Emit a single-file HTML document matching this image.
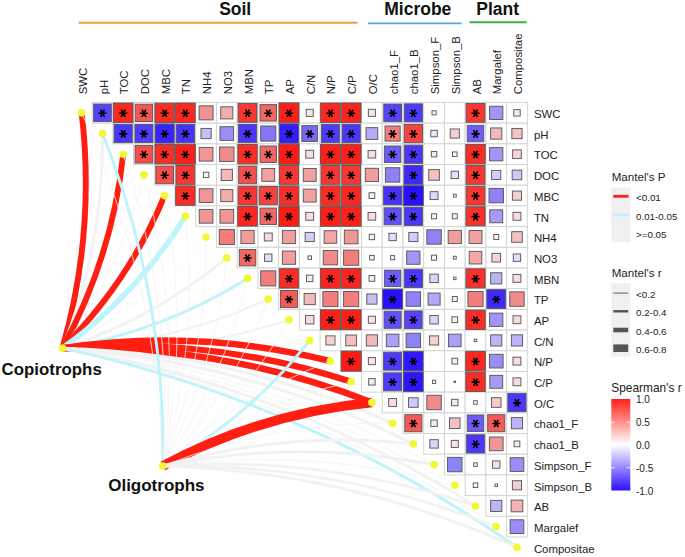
<!DOCTYPE html>
<html><head><meta charset="utf-8"><title>Mantel test correlation heatmap</title>
<style>html,body{margin:0;padding:0;background:#fff}body{width:685px;height:557px;position:relative;overflow:hidden;font-family:"Liberation Sans",sans-serif}</style></head>
<body>
<svg width="685" height="557" viewBox="0 0 685 557" style="position:absolute;left:0;top:0">
<rect width="685" height="557" fill="#fff"/>
<g stroke-linecap="butt">
<path d="M62.4 348.2 Q95.6 232.5 81.7 112.8" stroke="#ff1e12" stroke-width="5.9" fill="none"/>
<path d="M62.4 348.2 Q103.9 244.9 102.5 133.5" stroke="#f2f2f2" stroke-width="2.9" fill="none"/>
<path d="M62.4 348.2 Q112.2 257.3 123.2 154.2" stroke="#ff1e12" stroke-width="5.9" fill="none"/>
<path d="M62.4 348.2 Q120.5 269.7 143.9 174.9" stroke="#f2f2f2" stroke-width="0.8" fill="none"/>
<path d="M62.4 348.2 Q128.8 282.1 164.6 195.6" stroke="#ff1e12" stroke-width="5.9" fill="none"/>
<path d="M62.4 348.2 Q137.1 294.5 185.4 216.3" stroke="#bdf3fa" stroke-width="5.4" fill="none"/>
<path d="M62.4 348.2 Q145.4 307.0 206.1 237.0" stroke="#f2f2f2" stroke-width="0.8" fill="none"/>
<path d="M62.4 348.2 Q153.7 319.4 226.8 257.7" stroke="#f2f2f2" stroke-width="2.9" fill="none"/>
<path d="M62.4 348.2 Q162.0 331.8 247.5 278.4" stroke="#bdf3fa" stroke-width="2.9" fill="none"/>
<path d="M62.4 348.2 Q170.2 344.2 268.3 299.1" stroke="#f2f2f2" stroke-width="2.2" fill="none"/>
<path d="M62.4 348.2 Q178.5 356.6 289.0 319.7" stroke="#f2f2f2" stroke-width="2.2" fill="none"/>
<path d="M62.4 348.2 Q186.8 369.0 309.7 340.4" stroke="#f2f2f2" stroke-width="0.8" fill="none"/>
<path d="M62.4 348.2 Q197.7 327.9 330.4 361.1" stroke="#ff1e12" stroke-width="6.4" fill="none"/>
<path d="M62.4 348.2 Q210.1 336.1 351.2 381.8" stroke="#ff1e12" stroke-width="6.4" fill="none"/>
<path d="M62.4 348.2 Q222.6 344.4 371.9 402.5" stroke="#ff1e12" stroke-width="6.4" fill="none"/>
<path d="M62.4 348.2 Q235.0 352.7 392.6 423.2" stroke="#f2f2f2" stroke-width="2.9" fill="none"/>
<path d="M62.4 348.2 Q247.4 360.9 413.3 443.9" stroke="#f2f2f2" stroke-width="2.9" fill="none"/>
<path d="M62.4 348.2 Q259.9 369.2 434.1 464.6" stroke="#f2f2f2" stroke-width="0.8" fill="none"/>
<path d="M62.4 348.2 Q272.3 377.5 454.8 485.3" stroke="#f2f2f2" stroke-width="0.8" fill="none"/>
<path d="M62.4 348.2 Q284.7 385.8 475.5 506.0" stroke="#f2f2f2" stroke-width="2.9" fill="none"/>
<path d="M62.4 348.2 Q297.2 394.0 496.2 526.6" stroke="#f2f2f2" stroke-width="0.8" fill="none"/>
<path d="M62.4 348.2 Q309.6 402.3 517.0 547.3" stroke="#bdf3fa" stroke-width="2.9" fill="none"/>
<path d="M162.8 466.0 Q157.6 281.3 81.7 112.8" stroke="#f2f2f2" stroke-width="0.8" fill="none"/>
<path d="M162.8 466.0 Q165.9 293.7 102.5 133.5" stroke="#bdf3fa" stroke-width="2.9" fill="none"/>
<path d="M162.8 466.0 Q174.2 306.2 123.2 154.2" stroke="#f2f2f2" stroke-width="0.8" fill="none"/>
<path d="M162.8 466.0 Q182.5 318.6 143.9 174.9" stroke="#f2f2f2" stroke-width="0.8" fill="none"/>
<path d="M162.8 466.0 Q190.8 331.0 164.6 195.6" stroke="#f2f2f2" stroke-width="0.8" fill="none"/>
<path d="M162.8 466.0 Q199.1 343.4 185.4 216.3" stroke="#f2f2f2" stroke-width="0.8" fill="none"/>
<path d="M162.8 466.0 Q207.3 355.8 206.1 237.0" stroke="#f2f2f2" stroke-width="0.8" fill="none"/>
<path d="M162.8 466.0 Q215.6 368.2 226.8 257.7" stroke="#f2f2f2" stroke-width="0.8" fill="none"/>
<path d="M162.8 466.0 Q223.9 380.7 247.5 278.4" stroke="#f2f2f2" stroke-width="0.8" fill="none"/>
<path d="M162.8 466.0 Q232.2 393.1 268.3 299.1" stroke="#f2f2f2" stroke-width="0.8" fill="none"/>
<path d="M162.8 466.0 Q240.5 405.5 289.0 319.7" stroke="#f2f2f2" stroke-width="0.8" fill="none"/>
<path d="M162.8 466.0 Q248.8 417.9 309.7 340.4" stroke="#bdf3fa" stroke-width="2.9" fill="none"/>
<path d="M162.8 466.0 Q236.1 396.8 330.4 361.1" stroke="#f2f2f2" stroke-width="0.8" fill="none"/>
<path d="M162.8 466.0 Q248.6 405.1 351.2 381.8" stroke="#f2f2f2" stroke-width="0.8" fill="none"/>
<path d="M162.8 466.0 Q261.0 413.3 371.9 402.5" stroke="#ff1e12" stroke-width="9.6" fill="none"/>
<path d="M162.8 466.0 Q273.4 421.6 392.6 423.2" stroke="#f2f2f2" stroke-width="0.8" fill="none"/>
<path d="M162.8 466.0 Q285.9 429.9 413.3 443.9" stroke="#f2f2f2" stroke-width="2.9" fill="none"/>
<path d="M162.8 466.0 Q298.3 438.2 434.1 464.6" stroke="#f2f2f2" stroke-width="2.9" fill="none"/>
<path d="M162.8 466.0 Q310.7 446.4 454.8 485.3" stroke="#f2f2f2" stroke-width="0.8" fill="none"/>
<path d="M162.8 466.0 Q323.2 454.7 475.5 506.0" stroke="#f2f2f2" stroke-width="2.9" fill="none"/>
<path d="M162.8 466.0 Q335.6 463.0 496.2 526.6" stroke="#f2f2f2" stroke-width="2.9" fill="none"/>
<path d="M162.8 466.0 Q348.0 471.3 517.0 547.3" stroke="#f2f2f2" stroke-width="2.9" fill="none"/>
</g>
<g>
<rect x="92.10" y="102.50" width="20.725" height="20.69" fill="#fff" stroke="#d4d4d4" stroke-width="1"/>
<rect x="112.82" y="102.50" width="20.725" height="20.69" fill="#fff" stroke="#d4d4d4" stroke-width="1"/>
<rect x="133.55" y="102.50" width="20.725" height="20.69" fill="#fff" stroke="#d4d4d4" stroke-width="1"/>
<rect x="154.28" y="102.50" width="20.725" height="20.69" fill="#fff" stroke="#d4d4d4" stroke-width="1"/>
<rect x="175.00" y="102.50" width="20.725" height="20.69" fill="#fff" stroke="#d4d4d4" stroke-width="1"/>
<rect x="195.72" y="102.50" width="20.725" height="20.69" fill="#fff" stroke="#d4d4d4" stroke-width="1"/>
<rect x="216.45" y="102.50" width="20.725" height="20.69" fill="#fff" stroke="#d4d4d4" stroke-width="1"/>
<rect x="237.18" y="102.50" width="20.725" height="20.69" fill="#fff" stroke="#d4d4d4" stroke-width="1"/>
<rect x="257.90" y="102.50" width="20.725" height="20.69" fill="#fff" stroke="#d4d4d4" stroke-width="1"/>
<rect x="278.62" y="102.50" width="20.725" height="20.69" fill="#fff" stroke="#d4d4d4" stroke-width="1"/>
<rect x="299.35" y="102.50" width="20.725" height="20.69" fill="#fff" stroke="#d4d4d4" stroke-width="1"/>
<rect x="320.08" y="102.50" width="20.725" height="20.69" fill="#fff" stroke="#d4d4d4" stroke-width="1"/>
<rect x="340.80" y="102.50" width="20.725" height="20.69" fill="#fff" stroke="#d4d4d4" stroke-width="1"/>
<rect x="361.52" y="102.50" width="20.725" height="20.69" fill="#fff" stroke="#d4d4d4" stroke-width="1"/>
<rect x="382.25" y="102.50" width="20.725" height="20.69" fill="#fff" stroke="#d4d4d4" stroke-width="1"/>
<rect x="402.98" y="102.50" width="20.725" height="20.69" fill="#fff" stroke="#d4d4d4" stroke-width="1"/>
<rect x="423.70" y="102.50" width="20.725" height="20.69" fill="#fff" stroke="#d4d4d4" stroke-width="1"/>
<rect x="444.43" y="102.50" width="20.725" height="20.69" fill="#fff" stroke="#d4d4d4" stroke-width="1"/>
<rect x="465.15" y="102.50" width="20.725" height="20.69" fill="#fff" stroke="#d4d4d4" stroke-width="1"/>
<rect x="485.88" y="102.50" width="20.725" height="20.69" fill="#fff" stroke="#d4d4d4" stroke-width="1"/>
<rect x="506.60" y="102.50" width="20.725" height="20.69" fill="#fff" stroke="#d4d4d4" stroke-width="1"/>
<rect x="112.82" y="123.19" width="20.725" height="20.69" fill="#fff" stroke="#d4d4d4" stroke-width="1"/>
<rect x="133.55" y="123.19" width="20.725" height="20.69" fill="#fff" stroke="#d4d4d4" stroke-width="1"/>
<rect x="154.28" y="123.19" width="20.725" height="20.69" fill="#fff" stroke="#d4d4d4" stroke-width="1"/>
<rect x="175.00" y="123.19" width="20.725" height="20.69" fill="#fff" stroke="#d4d4d4" stroke-width="1"/>
<rect x="195.72" y="123.19" width="20.725" height="20.69" fill="#fff" stroke="#d4d4d4" stroke-width="1"/>
<rect x="216.45" y="123.19" width="20.725" height="20.69" fill="#fff" stroke="#d4d4d4" stroke-width="1"/>
<rect x="237.18" y="123.19" width="20.725" height="20.69" fill="#fff" stroke="#d4d4d4" stroke-width="1"/>
<rect x="257.90" y="123.19" width="20.725" height="20.69" fill="#fff" stroke="#d4d4d4" stroke-width="1"/>
<rect x="278.62" y="123.19" width="20.725" height="20.69" fill="#fff" stroke="#d4d4d4" stroke-width="1"/>
<rect x="299.35" y="123.19" width="20.725" height="20.69" fill="#fff" stroke="#d4d4d4" stroke-width="1"/>
<rect x="320.08" y="123.19" width="20.725" height="20.69" fill="#fff" stroke="#d4d4d4" stroke-width="1"/>
<rect x="340.80" y="123.19" width="20.725" height="20.69" fill="#fff" stroke="#d4d4d4" stroke-width="1"/>
<rect x="361.52" y="123.19" width="20.725" height="20.69" fill="#fff" stroke="#d4d4d4" stroke-width="1"/>
<rect x="382.25" y="123.19" width="20.725" height="20.69" fill="#fff" stroke="#d4d4d4" stroke-width="1"/>
<rect x="402.98" y="123.19" width="20.725" height="20.69" fill="#fff" stroke="#d4d4d4" stroke-width="1"/>
<rect x="423.70" y="123.19" width="20.725" height="20.69" fill="#fff" stroke="#d4d4d4" stroke-width="1"/>
<rect x="444.43" y="123.19" width="20.725" height="20.69" fill="#fff" stroke="#d4d4d4" stroke-width="1"/>
<rect x="465.15" y="123.19" width="20.725" height="20.69" fill="#fff" stroke="#d4d4d4" stroke-width="1"/>
<rect x="485.88" y="123.19" width="20.725" height="20.69" fill="#fff" stroke="#d4d4d4" stroke-width="1"/>
<rect x="506.60" y="123.19" width="20.725" height="20.69" fill="#fff" stroke="#d4d4d4" stroke-width="1"/>
<rect x="133.55" y="143.88" width="20.725" height="20.69" fill="#fff" stroke="#d4d4d4" stroke-width="1"/>
<rect x="154.28" y="143.88" width="20.725" height="20.69" fill="#fff" stroke="#d4d4d4" stroke-width="1"/>
<rect x="175.00" y="143.88" width="20.725" height="20.69" fill="#fff" stroke="#d4d4d4" stroke-width="1"/>
<rect x="195.72" y="143.88" width="20.725" height="20.69" fill="#fff" stroke="#d4d4d4" stroke-width="1"/>
<rect x="216.45" y="143.88" width="20.725" height="20.69" fill="#fff" stroke="#d4d4d4" stroke-width="1"/>
<rect x="237.18" y="143.88" width="20.725" height="20.69" fill="#fff" stroke="#d4d4d4" stroke-width="1"/>
<rect x="257.90" y="143.88" width="20.725" height="20.69" fill="#fff" stroke="#d4d4d4" stroke-width="1"/>
<rect x="278.62" y="143.88" width="20.725" height="20.69" fill="#fff" stroke="#d4d4d4" stroke-width="1"/>
<rect x="299.35" y="143.88" width="20.725" height="20.69" fill="#fff" stroke="#d4d4d4" stroke-width="1"/>
<rect x="320.08" y="143.88" width="20.725" height="20.69" fill="#fff" stroke="#d4d4d4" stroke-width="1"/>
<rect x="340.80" y="143.88" width="20.725" height="20.69" fill="#fff" stroke="#d4d4d4" stroke-width="1"/>
<rect x="361.52" y="143.88" width="20.725" height="20.69" fill="#fff" stroke="#d4d4d4" stroke-width="1"/>
<rect x="382.25" y="143.88" width="20.725" height="20.69" fill="#fff" stroke="#d4d4d4" stroke-width="1"/>
<rect x="402.98" y="143.88" width="20.725" height="20.69" fill="#fff" stroke="#d4d4d4" stroke-width="1"/>
<rect x="423.70" y="143.88" width="20.725" height="20.69" fill="#fff" stroke="#d4d4d4" stroke-width="1"/>
<rect x="444.43" y="143.88" width="20.725" height="20.69" fill="#fff" stroke="#d4d4d4" stroke-width="1"/>
<rect x="465.15" y="143.88" width="20.725" height="20.69" fill="#fff" stroke="#d4d4d4" stroke-width="1"/>
<rect x="485.88" y="143.88" width="20.725" height="20.69" fill="#fff" stroke="#d4d4d4" stroke-width="1"/>
<rect x="506.60" y="143.88" width="20.725" height="20.69" fill="#fff" stroke="#d4d4d4" stroke-width="1"/>
<rect x="154.28" y="164.57" width="20.725" height="20.69" fill="#fff" stroke="#d4d4d4" stroke-width="1"/>
<rect x="175.00" y="164.57" width="20.725" height="20.69" fill="#fff" stroke="#d4d4d4" stroke-width="1"/>
<rect x="195.72" y="164.57" width="20.725" height="20.69" fill="#fff" stroke="#d4d4d4" stroke-width="1"/>
<rect x="216.45" y="164.57" width="20.725" height="20.69" fill="#fff" stroke="#d4d4d4" stroke-width="1"/>
<rect x="237.18" y="164.57" width="20.725" height="20.69" fill="#fff" stroke="#d4d4d4" stroke-width="1"/>
<rect x="257.90" y="164.57" width="20.725" height="20.69" fill="#fff" stroke="#d4d4d4" stroke-width="1"/>
<rect x="278.62" y="164.57" width="20.725" height="20.69" fill="#fff" stroke="#d4d4d4" stroke-width="1"/>
<rect x="299.35" y="164.57" width="20.725" height="20.69" fill="#fff" stroke="#d4d4d4" stroke-width="1"/>
<rect x="320.08" y="164.57" width="20.725" height="20.69" fill="#fff" stroke="#d4d4d4" stroke-width="1"/>
<rect x="340.80" y="164.57" width="20.725" height="20.69" fill="#fff" stroke="#d4d4d4" stroke-width="1"/>
<rect x="361.52" y="164.57" width="20.725" height="20.69" fill="#fff" stroke="#d4d4d4" stroke-width="1"/>
<rect x="382.25" y="164.57" width="20.725" height="20.69" fill="#fff" stroke="#d4d4d4" stroke-width="1"/>
<rect x="402.98" y="164.57" width="20.725" height="20.69" fill="#fff" stroke="#d4d4d4" stroke-width="1"/>
<rect x="423.70" y="164.57" width="20.725" height="20.69" fill="#fff" stroke="#d4d4d4" stroke-width="1"/>
<rect x="444.43" y="164.57" width="20.725" height="20.69" fill="#fff" stroke="#d4d4d4" stroke-width="1"/>
<rect x="465.15" y="164.57" width="20.725" height="20.69" fill="#fff" stroke="#d4d4d4" stroke-width="1"/>
<rect x="485.88" y="164.57" width="20.725" height="20.69" fill="#fff" stroke="#d4d4d4" stroke-width="1"/>
<rect x="506.60" y="164.57" width="20.725" height="20.69" fill="#fff" stroke="#d4d4d4" stroke-width="1"/>
<rect x="175.00" y="185.26" width="20.725" height="20.69" fill="#fff" stroke="#d4d4d4" stroke-width="1"/>
<rect x="195.72" y="185.26" width="20.725" height="20.69" fill="#fff" stroke="#d4d4d4" stroke-width="1"/>
<rect x="216.45" y="185.26" width="20.725" height="20.69" fill="#fff" stroke="#d4d4d4" stroke-width="1"/>
<rect x="237.18" y="185.26" width="20.725" height="20.69" fill="#fff" stroke="#d4d4d4" stroke-width="1"/>
<rect x="257.90" y="185.26" width="20.725" height="20.69" fill="#fff" stroke="#d4d4d4" stroke-width="1"/>
<rect x="278.62" y="185.26" width="20.725" height="20.69" fill="#fff" stroke="#d4d4d4" stroke-width="1"/>
<rect x="299.35" y="185.26" width="20.725" height="20.69" fill="#fff" stroke="#d4d4d4" stroke-width="1"/>
<rect x="320.08" y="185.26" width="20.725" height="20.69" fill="#fff" stroke="#d4d4d4" stroke-width="1"/>
<rect x="340.80" y="185.26" width="20.725" height="20.69" fill="#fff" stroke="#d4d4d4" stroke-width="1"/>
<rect x="361.52" y="185.26" width="20.725" height="20.69" fill="#fff" stroke="#d4d4d4" stroke-width="1"/>
<rect x="382.25" y="185.26" width="20.725" height="20.69" fill="#fff" stroke="#d4d4d4" stroke-width="1"/>
<rect x="402.98" y="185.26" width="20.725" height="20.69" fill="#fff" stroke="#d4d4d4" stroke-width="1"/>
<rect x="423.70" y="185.26" width="20.725" height="20.69" fill="#fff" stroke="#d4d4d4" stroke-width="1"/>
<rect x="444.43" y="185.26" width="20.725" height="20.69" fill="#fff" stroke="#d4d4d4" stroke-width="1"/>
<rect x="465.15" y="185.26" width="20.725" height="20.69" fill="#fff" stroke="#d4d4d4" stroke-width="1"/>
<rect x="485.88" y="185.26" width="20.725" height="20.69" fill="#fff" stroke="#d4d4d4" stroke-width="1"/>
<rect x="506.60" y="185.26" width="20.725" height="20.69" fill="#fff" stroke="#d4d4d4" stroke-width="1"/>
<rect x="195.72" y="205.95" width="20.725" height="20.69" fill="#fff" stroke="#d4d4d4" stroke-width="1"/>
<rect x="216.45" y="205.95" width="20.725" height="20.69" fill="#fff" stroke="#d4d4d4" stroke-width="1"/>
<rect x="237.18" y="205.95" width="20.725" height="20.69" fill="#fff" stroke="#d4d4d4" stroke-width="1"/>
<rect x="257.90" y="205.95" width="20.725" height="20.69" fill="#fff" stroke="#d4d4d4" stroke-width="1"/>
<rect x="278.62" y="205.95" width="20.725" height="20.69" fill="#fff" stroke="#d4d4d4" stroke-width="1"/>
<rect x="299.35" y="205.95" width="20.725" height="20.69" fill="#fff" stroke="#d4d4d4" stroke-width="1"/>
<rect x="320.08" y="205.95" width="20.725" height="20.69" fill="#fff" stroke="#d4d4d4" stroke-width="1"/>
<rect x="340.80" y="205.95" width="20.725" height="20.69" fill="#fff" stroke="#d4d4d4" stroke-width="1"/>
<rect x="361.52" y="205.95" width="20.725" height="20.69" fill="#fff" stroke="#d4d4d4" stroke-width="1"/>
<rect x="382.25" y="205.95" width="20.725" height="20.69" fill="#fff" stroke="#d4d4d4" stroke-width="1"/>
<rect x="402.98" y="205.95" width="20.725" height="20.69" fill="#fff" stroke="#d4d4d4" stroke-width="1"/>
<rect x="423.70" y="205.95" width="20.725" height="20.69" fill="#fff" stroke="#d4d4d4" stroke-width="1"/>
<rect x="444.43" y="205.95" width="20.725" height="20.69" fill="#fff" stroke="#d4d4d4" stroke-width="1"/>
<rect x="465.15" y="205.95" width="20.725" height="20.69" fill="#fff" stroke="#d4d4d4" stroke-width="1"/>
<rect x="485.88" y="205.95" width="20.725" height="20.69" fill="#fff" stroke="#d4d4d4" stroke-width="1"/>
<rect x="506.60" y="205.95" width="20.725" height="20.69" fill="#fff" stroke="#d4d4d4" stroke-width="1"/>
<rect x="216.45" y="226.64" width="20.725" height="20.69" fill="#fff" stroke="#d4d4d4" stroke-width="1"/>
<rect x="237.18" y="226.64" width="20.725" height="20.69" fill="#fff" stroke="#d4d4d4" stroke-width="1"/>
<rect x="257.90" y="226.64" width="20.725" height="20.69" fill="#fff" stroke="#d4d4d4" stroke-width="1"/>
<rect x="278.62" y="226.64" width="20.725" height="20.69" fill="#fff" stroke="#d4d4d4" stroke-width="1"/>
<rect x="299.35" y="226.64" width="20.725" height="20.69" fill="#fff" stroke="#d4d4d4" stroke-width="1"/>
<rect x="320.08" y="226.64" width="20.725" height="20.69" fill="#fff" stroke="#d4d4d4" stroke-width="1"/>
<rect x="340.80" y="226.64" width="20.725" height="20.69" fill="#fff" stroke="#d4d4d4" stroke-width="1"/>
<rect x="361.52" y="226.64" width="20.725" height="20.69" fill="#fff" stroke="#d4d4d4" stroke-width="1"/>
<rect x="382.25" y="226.64" width="20.725" height="20.69" fill="#fff" stroke="#d4d4d4" stroke-width="1"/>
<rect x="402.98" y="226.64" width="20.725" height="20.69" fill="#fff" stroke="#d4d4d4" stroke-width="1"/>
<rect x="423.70" y="226.64" width="20.725" height="20.69" fill="#fff" stroke="#d4d4d4" stroke-width="1"/>
<rect x="444.43" y="226.64" width="20.725" height="20.69" fill="#fff" stroke="#d4d4d4" stroke-width="1"/>
<rect x="465.15" y="226.64" width="20.725" height="20.69" fill="#fff" stroke="#d4d4d4" stroke-width="1"/>
<rect x="485.88" y="226.64" width="20.725" height="20.69" fill="#fff" stroke="#d4d4d4" stroke-width="1"/>
<rect x="506.60" y="226.64" width="20.725" height="20.69" fill="#fff" stroke="#d4d4d4" stroke-width="1"/>
<rect x="237.18" y="247.33" width="20.725" height="20.69" fill="#fff" stroke="#d4d4d4" stroke-width="1"/>
<rect x="257.90" y="247.33" width="20.725" height="20.69" fill="#fff" stroke="#d4d4d4" stroke-width="1"/>
<rect x="278.62" y="247.33" width="20.725" height="20.69" fill="#fff" stroke="#d4d4d4" stroke-width="1"/>
<rect x="299.35" y="247.33" width="20.725" height="20.69" fill="#fff" stroke="#d4d4d4" stroke-width="1"/>
<rect x="320.08" y="247.33" width="20.725" height="20.69" fill="#fff" stroke="#d4d4d4" stroke-width="1"/>
<rect x="340.80" y="247.33" width="20.725" height="20.69" fill="#fff" stroke="#d4d4d4" stroke-width="1"/>
<rect x="361.52" y="247.33" width="20.725" height="20.69" fill="#fff" stroke="#d4d4d4" stroke-width="1"/>
<rect x="382.25" y="247.33" width="20.725" height="20.69" fill="#fff" stroke="#d4d4d4" stroke-width="1"/>
<rect x="402.98" y="247.33" width="20.725" height="20.69" fill="#fff" stroke="#d4d4d4" stroke-width="1"/>
<rect x="423.70" y="247.33" width="20.725" height="20.69" fill="#fff" stroke="#d4d4d4" stroke-width="1"/>
<rect x="444.43" y="247.33" width="20.725" height="20.69" fill="#fff" stroke="#d4d4d4" stroke-width="1"/>
<rect x="465.15" y="247.33" width="20.725" height="20.69" fill="#fff" stroke="#d4d4d4" stroke-width="1"/>
<rect x="485.88" y="247.33" width="20.725" height="20.69" fill="#fff" stroke="#d4d4d4" stroke-width="1"/>
<rect x="506.60" y="247.33" width="20.725" height="20.69" fill="#fff" stroke="#d4d4d4" stroke-width="1"/>
<rect x="257.90" y="268.02" width="20.725" height="20.69" fill="#fff" stroke="#d4d4d4" stroke-width="1"/>
<rect x="278.62" y="268.02" width="20.725" height="20.69" fill="#fff" stroke="#d4d4d4" stroke-width="1"/>
<rect x="299.35" y="268.02" width="20.725" height="20.69" fill="#fff" stroke="#d4d4d4" stroke-width="1"/>
<rect x="320.08" y="268.02" width="20.725" height="20.69" fill="#fff" stroke="#d4d4d4" stroke-width="1"/>
<rect x="340.80" y="268.02" width="20.725" height="20.69" fill="#fff" stroke="#d4d4d4" stroke-width="1"/>
<rect x="361.52" y="268.02" width="20.725" height="20.69" fill="#fff" stroke="#d4d4d4" stroke-width="1"/>
<rect x="382.25" y="268.02" width="20.725" height="20.69" fill="#fff" stroke="#d4d4d4" stroke-width="1"/>
<rect x="402.98" y="268.02" width="20.725" height="20.69" fill="#fff" stroke="#d4d4d4" stroke-width="1"/>
<rect x="423.70" y="268.02" width="20.725" height="20.69" fill="#fff" stroke="#d4d4d4" stroke-width="1"/>
<rect x="444.43" y="268.02" width="20.725" height="20.69" fill="#fff" stroke="#d4d4d4" stroke-width="1"/>
<rect x="465.15" y="268.02" width="20.725" height="20.69" fill="#fff" stroke="#d4d4d4" stroke-width="1"/>
<rect x="485.88" y="268.02" width="20.725" height="20.69" fill="#fff" stroke="#d4d4d4" stroke-width="1"/>
<rect x="506.60" y="268.02" width="20.725" height="20.69" fill="#fff" stroke="#d4d4d4" stroke-width="1"/>
<rect x="278.62" y="288.71" width="20.725" height="20.69" fill="#fff" stroke="#d4d4d4" stroke-width="1"/>
<rect x="299.35" y="288.71" width="20.725" height="20.69" fill="#fff" stroke="#d4d4d4" stroke-width="1"/>
<rect x="320.08" y="288.71" width="20.725" height="20.69" fill="#fff" stroke="#d4d4d4" stroke-width="1"/>
<rect x="340.80" y="288.71" width="20.725" height="20.69" fill="#fff" stroke="#d4d4d4" stroke-width="1"/>
<rect x="361.52" y="288.71" width="20.725" height="20.69" fill="#fff" stroke="#d4d4d4" stroke-width="1"/>
<rect x="382.25" y="288.71" width="20.725" height="20.69" fill="#fff" stroke="#d4d4d4" stroke-width="1"/>
<rect x="402.98" y="288.71" width="20.725" height="20.69" fill="#fff" stroke="#d4d4d4" stroke-width="1"/>
<rect x="423.70" y="288.71" width="20.725" height="20.69" fill="#fff" stroke="#d4d4d4" stroke-width="1"/>
<rect x="444.43" y="288.71" width="20.725" height="20.69" fill="#fff" stroke="#d4d4d4" stroke-width="1"/>
<rect x="465.15" y="288.71" width="20.725" height="20.69" fill="#fff" stroke="#d4d4d4" stroke-width="1"/>
<rect x="485.88" y="288.71" width="20.725" height="20.69" fill="#fff" stroke="#d4d4d4" stroke-width="1"/>
<rect x="506.60" y="288.71" width="20.725" height="20.69" fill="#fff" stroke="#d4d4d4" stroke-width="1"/>
<rect x="299.35" y="309.40" width="20.725" height="20.69" fill="#fff" stroke="#d4d4d4" stroke-width="1"/>
<rect x="320.08" y="309.40" width="20.725" height="20.69" fill="#fff" stroke="#d4d4d4" stroke-width="1"/>
<rect x="340.80" y="309.40" width="20.725" height="20.69" fill="#fff" stroke="#d4d4d4" stroke-width="1"/>
<rect x="361.52" y="309.40" width="20.725" height="20.69" fill="#fff" stroke="#d4d4d4" stroke-width="1"/>
<rect x="382.25" y="309.40" width="20.725" height="20.69" fill="#fff" stroke="#d4d4d4" stroke-width="1"/>
<rect x="402.98" y="309.40" width="20.725" height="20.69" fill="#fff" stroke="#d4d4d4" stroke-width="1"/>
<rect x="423.70" y="309.40" width="20.725" height="20.69" fill="#fff" stroke="#d4d4d4" stroke-width="1"/>
<rect x="444.43" y="309.40" width="20.725" height="20.69" fill="#fff" stroke="#d4d4d4" stroke-width="1"/>
<rect x="465.15" y="309.40" width="20.725" height="20.69" fill="#fff" stroke="#d4d4d4" stroke-width="1"/>
<rect x="485.88" y="309.40" width="20.725" height="20.69" fill="#fff" stroke="#d4d4d4" stroke-width="1"/>
<rect x="506.60" y="309.40" width="20.725" height="20.69" fill="#fff" stroke="#d4d4d4" stroke-width="1"/>
<rect x="320.08" y="330.09" width="20.725" height="20.69" fill="#fff" stroke="#d4d4d4" stroke-width="1"/>
<rect x="340.80" y="330.09" width="20.725" height="20.69" fill="#fff" stroke="#d4d4d4" stroke-width="1"/>
<rect x="361.52" y="330.09" width="20.725" height="20.69" fill="#fff" stroke="#d4d4d4" stroke-width="1"/>
<rect x="382.25" y="330.09" width="20.725" height="20.69" fill="#fff" stroke="#d4d4d4" stroke-width="1"/>
<rect x="402.98" y="330.09" width="20.725" height="20.69" fill="#fff" stroke="#d4d4d4" stroke-width="1"/>
<rect x="423.70" y="330.09" width="20.725" height="20.69" fill="#fff" stroke="#d4d4d4" stroke-width="1"/>
<rect x="444.43" y="330.09" width="20.725" height="20.69" fill="#fff" stroke="#d4d4d4" stroke-width="1"/>
<rect x="465.15" y="330.09" width="20.725" height="20.69" fill="#fff" stroke="#d4d4d4" stroke-width="1"/>
<rect x="485.88" y="330.09" width="20.725" height="20.69" fill="#fff" stroke="#d4d4d4" stroke-width="1"/>
<rect x="506.60" y="330.09" width="20.725" height="20.69" fill="#fff" stroke="#d4d4d4" stroke-width="1"/>
<rect x="340.80" y="350.78" width="20.725" height="20.69" fill="#fff" stroke="#d4d4d4" stroke-width="1"/>
<rect x="361.52" y="350.78" width="20.725" height="20.69" fill="#fff" stroke="#d4d4d4" stroke-width="1"/>
<rect x="382.25" y="350.78" width="20.725" height="20.69" fill="#fff" stroke="#d4d4d4" stroke-width="1"/>
<rect x="402.98" y="350.78" width="20.725" height="20.69" fill="#fff" stroke="#d4d4d4" stroke-width="1"/>
<rect x="423.70" y="350.78" width="20.725" height="20.69" fill="#fff" stroke="#d4d4d4" stroke-width="1"/>
<rect x="444.43" y="350.78" width="20.725" height="20.69" fill="#fff" stroke="#d4d4d4" stroke-width="1"/>
<rect x="465.15" y="350.78" width="20.725" height="20.69" fill="#fff" stroke="#d4d4d4" stroke-width="1"/>
<rect x="485.88" y="350.78" width="20.725" height="20.69" fill="#fff" stroke="#d4d4d4" stroke-width="1"/>
<rect x="506.60" y="350.78" width="20.725" height="20.69" fill="#fff" stroke="#d4d4d4" stroke-width="1"/>
<rect x="361.52" y="371.47" width="20.725" height="20.69" fill="#fff" stroke="#d4d4d4" stroke-width="1"/>
<rect x="382.25" y="371.47" width="20.725" height="20.69" fill="#fff" stroke="#d4d4d4" stroke-width="1"/>
<rect x="402.98" y="371.47" width="20.725" height="20.69" fill="#fff" stroke="#d4d4d4" stroke-width="1"/>
<rect x="423.70" y="371.47" width="20.725" height="20.69" fill="#fff" stroke="#d4d4d4" stroke-width="1"/>
<rect x="444.43" y="371.47" width="20.725" height="20.69" fill="#fff" stroke="#d4d4d4" stroke-width="1"/>
<rect x="465.15" y="371.47" width="20.725" height="20.69" fill="#fff" stroke="#d4d4d4" stroke-width="1"/>
<rect x="485.88" y="371.47" width="20.725" height="20.69" fill="#fff" stroke="#d4d4d4" stroke-width="1"/>
<rect x="506.60" y="371.47" width="20.725" height="20.69" fill="#fff" stroke="#d4d4d4" stroke-width="1"/>
<rect x="382.25" y="392.16" width="20.725" height="20.69" fill="#fff" stroke="#d4d4d4" stroke-width="1"/>
<rect x="402.98" y="392.16" width="20.725" height="20.69" fill="#fff" stroke="#d4d4d4" stroke-width="1"/>
<rect x="423.70" y="392.16" width="20.725" height="20.69" fill="#fff" stroke="#d4d4d4" stroke-width="1"/>
<rect x="444.43" y="392.16" width="20.725" height="20.69" fill="#fff" stroke="#d4d4d4" stroke-width="1"/>
<rect x="465.15" y="392.16" width="20.725" height="20.69" fill="#fff" stroke="#d4d4d4" stroke-width="1"/>
<rect x="485.88" y="392.16" width="20.725" height="20.69" fill="#fff" stroke="#d4d4d4" stroke-width="1"/>
<rect x="506.60" y="392.16" width="20.725" height="20.69" fill="#fff" stroke="#d4d4d4" stroke-width="1"/>
<rect x="402.98" y="412.85" width="20.725" height="20.69" fill="#fff" stroke="#d4d4d4" stroke-width="1"/>
<rect x="423.70" y="412.85" width="20.725" height="20.69" fill="#fff" stroke="#d4d4d4" stroke-width="1"/>
<rect x="444.43" y="412.85" width="20.725" height="20.69" fill="#fff" stroke="#d4d4d4" stroke-width="1"/>
<rect x="465.15" y="412.85" width="20.725" height="20.69" fill="#fff" stroke="#d4d4d4" stroke-width="1"/>
<rect x="485.88" y="412.85" width="20.725" height="20.69" fill="#fff" stroke="#d4d4d4" stroke-width="1"/>
<rect x="506.60" y="412.85" width="20.725" height="20.69" fill="#fff" stroke="#d4d4d4" stroke-width="1"/>
<rect x="423.70" y="433.54" width="20.725" height="20.69" fill="#fff" stroke="#d4d4d4" stroke-width="1"/>
<rect x="444.43" y="433.54" width="20.725" height="20.69" fill="#fff" stroke="#d4d4d4" stroke-width="1"/>
<rect x="465.15" y="433.54" width="20.725" height="20.69" fill="#fff" stroke="#d4d4d4" stroke-width="1"/>
<rect x="485.88" y="433.54" width="20.725" height="20.69" fill="#fff" stroke="#d4d4d4" stroke-width="1"/>
<rect x="506.60" y="433.54" width="20.725" height="20.69" fill="#fff" stroke="#d4d4d4" stroke-width="1"/>
<rect x="444.43" y="454.23" width="20.725" height="20.69" fill="#fff" stroke="#d4d4d4" stroke-width="1"/>
<rect x="465.15" y="454.23" width="20.725" height="20.69" fill="#fff" stroke="#d4d4d4" stroke-width="1"/>
<rect x="485.88" y="454.23" width="20.725" height="20.69" fill="#fff" stroke="#d4d4d4" stroke-width="1"/>
<rect x="506.60" y="454.23" width="20.725" height="20.69" fill="#fff" stroke="#d4d4d4" stroke-width="1"/>
<rect x="465.15" y="474.92" width="20.725" height="20.69" fill="#fff" stroke="#d4d4d4" stroke-width="1"/>
<rect x="485.88" y="474.92" width="20.725" height="20.69" fill="#fff" stroke="#d4d4d4" stroke-width="1"/>
<rect x="506.60" y="474.92" width="20.725" height="20.69" fill="#fff" stroke="#d4d4d4" stroke-width="1"/>
<rect x="485.88" y="495.61" width="20.725" height="20.69" fill="#fff" stroke="#d4d4d4" stroke-width="1"/>
<rect x="506.60" y="495.61" width="20.725" height="20.69" fill="#fff" stroke="#d4d4d4" stroke-width="1"/>
<rect x="506.60" y="516.30" width="20.725" height="20.69" fill="#fff" stroke="#d4d4d4" stroke-width="1"/>
</g>
<g stroke="#595959" stroke-width="0.95">
<rect x="93.62" y="104.01" width="17.68" height="17.68" fill="#5644f9"/>
<rect x="113.40" y="103.05" width="19.58" height="19.58" fill="#fb2721"/>
<rect x="135.25" y="104.18" width="17.32" height="17.32" fill="#f45653"/>
<rect x="154.95" y="103.16" width="19.37" height="19.37" fill="#fa2c26"/>
<rect x="175.57" y="103.05" width="19.58" height="19.58" fill="#fb2721"/>
<rect x="199.09" y="105.85" width="14.00" height="14.00" fill="#f19191"/>
<rect x="220.77" y="106.81" width="12.08" height="12.08" fill="#f2adae"/>
<rect x="238.13" y="103.43" width="18.82" height="18.82" fill="#f83732"/>
<rect x="260.03" y="104.62" width="16.46" height="16.46" fill="#f26665"/>
<rect x="279.04" y="102.90" width="19.90" height="19.90" fill="#fc2019"/>
<rect x="306.18" y="109.31" width="7.07" height="7.07" fill="#f9e3e4"/>
<rect x="320.65" y="103.05" width="19.58" height="19.58" fill="#fb2721"/>
<rect x="341.32" y="103.00" width="19.69" height="19.69" fill="#fb241e"/>
<rect x="368.35" y="109.31" width="7.07" height="7.07" fill="#f9e3e4"/>
<rect x="383.77" y="104.01" width="17.68" height="17.68" fill="#5644f9"/>
<rect x="404.32" y="103.83" width="18.03" height="18.03" fill="#4f3cfa"/>
<rect x="432.02" y="110.80" width="4.08" height="4.08" fill="#fdf6f6"/>
<rect x="466.10" y="103.43" width="18.82" height="18.82" fill="#f83732"/>
<rect x="489.62" y="106.23" width="13.23" height="13.23" fill="#a096f7"/>
<rect x="513.73" y="109.62" width="6.46" height="6.46" fill="#fae8e8"/>
<rect x="114.06" y="124.41" width="18.26" height="18.26" fill="#4a37fa"/>
<rect x="134.90" y="124.52" width="18.03" height="18.03" fill="#4f3cfa"/>
<rect x="155.06" y="123.96" width="19.15" height="19.15" fill="#3823fc"/>
<rect x="176.12" y="124.29" width="18.49" height="18.49" fill="#4632fa"/>
<rect x="200.98" y="128.43" width="10.21" height="10.21" fill="#c6c0f9"/>
<rect x="219.97" y="126.69" width="13.69" height="13.69" fill="#998ef7"/>
<rect x="238.41" y="124.41" width="18.26" height="18.26" fill="#4a37fa"/>
<rect x="260.69" y="125.97" width="15.14" height="15.14" fill="#8376f7"/>
<rect x="279.30" y="123.85" width="19.37" height="19.37" fill="#341efc"/>
<rect x="301.81" y="125.63" width="15.81" height="15.81" fill="#7769f7"/>
<rect x="321.42" y="124.52" width="18.03" height="18.03" fill="#4f3cfa"/>
<rect x="342.03" y="124.41" width="18.26" height="18.26" fill="#4a37fa"/>
<rect x="366.02" y="127.67" width="11.73" height="11.73" fill="#b4acf8"/>
<rect x="385.04" y="125.97" width="15.14" height="15.14" fill="#f17e7d"/>
<rect x="404.21" y="124.41" width="18.26" height="18.26" fill="#f6433f"/>
<rect x="430.83" y="130.31" width="6.46" height="6.46" fill="#e8e6fc"/>
<rect x="450.22" y="128.97" width="9.13" height="9.13" fill="#f6d0d1"/>
<rect x="467.28" y="125.31" width="16.46" height="16.46" fill="#6c5cf8"/>
<rect x="490.65" y="127.94" width="11.18" height="11.18" fill="#f3b8b9"/>
<rect x="511.86" y="128.43" width="10.21" height="10.21" fill="#f4c4c5"/>
<rect x="135.07" y="145.39" width="17.68" height="17.68" fill="#f44f4c"/>
<rect x="154.95" y="144.54" width="19.37" height="19.37" fill="#fa2c26"/>
<rect x="175.41" y="144.28" width="19.90" height="19.90" fill="#fc2019"/>
<rect x="199.24" y="147.38" width="13.69" height="13.69" fill="#f19596"/>
<rect x="219.60" y="147.01" width="14.43" height="14.43" fill="#f18a8a"/>
<rect x="237.85" y="144.54" width="19.37" height="19.37" fill="#fa2c26"/>
<rect x="260.03" y="146.00" width="16.46" height="16.46" fill="#f26665"/>
<rect x="278.93" y="144.17" width="20.11" height="20.11" fill="#fd1b14"/>
<rect x="305.76" y="150.27" width="7.91" height="7.91" fill="#f8dcdd"/>
<rect x="320.49" y="144.28" width="19.90" height="19.90" fill="#fc2019"/>
<rect x="341.21" y="144.28" width="19.90" height="19.90" fill="#fc2019"/>
<rect x="368.07" y="150.41" width="7.64" height="7.64" fill="#f8dedf"/>
<rect x="384.38" y="146.00" width="16.46" height="16.46" fill="#6c5cf8"/>
<rect x="404.21" y="145.10" width="18.26" height="18.26" fill="#4a37fa"/>
<rect x="431.36" y="151.52" width="5.40" height="5.40" fill="#efeefd"/>
<rect x="452.51" y="151.94" width="4.56" height="4.56" fill="#fcf3f4"/>
<rect x="465.83" y="144.54" width="19.37" height="19.37" fill="#fa2c26"/>
<rect x="489.62" y="147.61" width="13.23" height="13.23" fill="#a096f7"/>
<rect x="512.63" y="149.89" width="8.66" height="8.66" fill="#f7d5d6"/>
<rect x="155.80" y="166.08" width="17.68" height="17.68" fill="#f44f4c"/>
<rect x="175.95" y="165.50" width="18.82" height="18.82" fill="#f83732"/>
<rect x="203.39" y="172.21" width="5.40" height="5.40" fill="#fbefef"/>
<rect x="221.22" y="169.32" width="11.18" height="11.18" fill="#f3b8b9"/>
<rect x="238.70" y="166.08" width="17.68" height="17.68" fill="#f44f4c"/>
<rect x="261.81" y="168.46" width="12.91" height="12.91" fill="#f2a1a2"/>
<rect x="279.58" y="165.50" width="18.82" height="18.82" fill="#f83732"/>
<rect x="303.26" y="168.46" width="12.91" height="12.91" fill="#f2a1a2"/>
<rect x="321.03" y="165.50" width="18.82" height="18.82" fill="#f83732"/>
<rect x="341.75" y="165.50" width="18.82" height="18.82" fill="#f83732"/>
<rect x="365.27" y="168.30" width="13.23" height="13.23" fill="#f19c9d"/>
<rect x="385.40" y="167.70" width="14.43" height="14.43" fill="#8e82f7"/>
<rect x="403.93" y="165.50" width="18.82" height="18.82" fill="#3f2afb"/>
<rect x="428.76" y="169.61" width="10.61" height="10.61" fill="#f4c0c1"/>
<rect x="451.11" y="171.23" width="7.36" height="7.36" fill="#e2defb"/>
<rect x="466.10" y="165.50" width="18.82" height="18.82" fill="#f83732"/>
<rect x="491.67" y="170.35" width="9.13" height="9.13" fill="#d2cdfa"/>
<rect x="512.17" y="170.13" width="9.58" height="9.58" fill="#cdc8fa"/>
<rect x="175.68" y="185.92" width="19.37" height="19.37" fill="#fa2c26"/>
<rect x="199.24" y="188.76" width="13.69" height="13.69" fill="#f19596"/>
<rect x="220.77" y="189.57" width="12.08" height="12.08" fill="#f2adae"/>
<rect x="238.13" y="186.19" width="18.82" height="18.82" fill="#f83732"/>
<rect x="259.13" y="186.48" width="18.26" height="18.26" fill="#f6433f"/>
<rect x="279.30" y="185.92" width="19.37" height="19.37" fill="#fa2c26"/>
<rect x="303.26" y="189.15" width="12.91" height="12.91" fill="#f2a1a2"/>
<rect x="320.75" y="185.92" width="19.37" height="19.37" fill="#fa2c26"/>
<rect x="341.37" y="185.81" width="19.58" height="19.58" fill="#fb2721"/>
<rect x="369.00" y="192.72" width="5.77" height="5.77" fill="#fbeced"/>
<rect x="383.37" y="186.36" width="18.49" height="18.49" fill="#4632fa"/>
<rect x="403.39" y="185.66" width="19.90" height="19.90" fill="#2812fd"/>
<rect x="430.11" y="191.65" width="7.91" height="7.91" fill="#dddafb"/>
<rect x="453.34" y="194.16" width="2.89" height="2.89" fill="#fefafa"/>
<rect x="466.10" y="186.19" width="18.82" height="18.82" fill="#f83732"/>
<rect x="489.02" y="188.39" width="14.43" height="14.43" fill="#8e82f7"/>
<rect x="512.40" y="191.04" width="9.13" height="9.13" fill="#f6d0d1"/>
<rect x="199.24" y="209.45" width="13.69" height="13.69" fill="#f19596"/>
<rect x="219.97" y="209.45" width="13.69" height="13.69" fill="#f19596"/>
<rect x="237.75" y="206.50" width="19.58" height="19.58" fill="#fb2721"/>
<rect x="260.03" y="208.07" width="16.46" height="16.46" fill="#f26665"/>
<rect x="278.93" y="206.24" width="20.11" height="20.11" fill="#fd1b14"/>
<rect x="305.76" y="212.34" width="7.91" height="7.91" fill="#f8dcdd"/>
<rect x="320.49" y="206.35" width="19.90" height="19.90" fill="#fc2019"/>
<rect x="341.21" y="206.35" width="19.90" height="19.90" fill="#fc2019"/>
<rect x="368.07" y="212.48" width="7.64" height="7.64" fill="#f8dedf"/>
<rect x="384.07" y="207.76" width="17.08" height="17.08" fill="#6150f8"/>
<rect x="404.21" y="207.17" width="18.26" height="18.26" fill="#4a37fa"/>
<rect x="431.56" y="213.79" width="5.00" height="5.00" fill="#fcf1f1"/>
<rect x="452.29" y="213.79" width="5.00" height="5.00" fill="#fcf1f1"/>
<rect x="465.94" y="206.72" width="19.15" height="19.15" fill="#f9302b"/>
<rect x="489.78" y="209.84" width="12.91" height="12.91" fill="#a59bf7"/>
<rect x="513.01" y="212.34" width="7.91" height="7.91" fill="#f8dcdd"/>
<rect x="219.24" y="229.42" width="15.14" height="15.14" fill="#f17e7d"/>
<rect x="240.92" y="230.37" width="13.23" height="13.23" fill="#f19c9d"/>
<rect x="264.31" y="233.03" width="7.91" height="7.91" fill="#f8dcdd"/>
<rect x="282.37" y="230.37" width="13.23" height="13.23" fill="#f19c9d"/>
<rect x="305.15" y="232.42" width="9.13" height="9.13" fill="#d2cdfa"/>
<rect x="324.15" y="230.69" width="12.58" height="12.58" fill="#f2a6a6"/>
<rect x="344.32" y="230.14" width="13.69" height="13.69" fill="#f19596"/>
<rect x="369.19" y="234.28" width="5.40" height="5.40" fill="#efeefd"/>
<rect x="388.93" y="233.30" width="7.36" height="7.36" fill="#e2defb"/>
<rect x="408.77" y="232.42" width="9.13" height="9.13" fill="#d2cdfa"/>
<rect x="426.85" y="229.77" width="14.43" height="14.43" fill="#8e82f7"/>
<rect x="448.17" y="230.37" width="13.23" height="13.23" fill="#f19c9d"/>
<rect x="469.06" y="230.53" width="12.91" height="12.91" fill="#f2a1a2"/>
<rect x="493.74" y="234.48" width="5.00" height="5.00" fill="#fcf1f1"/>
<rect x="511.66" y="231.68" width="10.61" height="10.61" fill="#f4c0c1"/>
<rect x="239.31" y="249.45" width="16.46" height="16.46" fill="#f26665"/>
<rect x="264.58" y="253.99" width="7.36" height="7.36" fill="#e2defb"/>
<rect x="282.37" y="251.06" width="13.23" height="13.23" fill="#f19c9d"/>
<rect x="307.94" y="255.91" width="3.54" height="3.54" fill="#fdf8f8"/>
<rect x="323.22" y="250.46" width="14.43" height="14.43" fill="#f18a8a"/>
<rect x="343.59" y="250.11" width="15.14" height="15.14" fill="#f17e7d"/>
<rect x="369.61" y="255.39" width="4.56" height="4.56" fill="#fcf3f4"/>
<rect x="390.57" y="255.63" width="4.08" height="4.08" fill="#fdf6f6"/>
<rect x="406.72" y="251.06" width="13.23" height="13.23" fill="#a096f7"/>
<rect x="431.56" y="255.17" width="5.00" height="5.00" fill="#fcf1f1"/>
<rect x="453.34" y="256.23" width="2.89" height="2.89" fill="#fefafa"/>
<rect x="469.22" y="251.38" width="12.58" height="12.58" fill="#f2a6a6"/>
<rect x="491.91" y="253.34" width="8.66" height="8.66" fill="#f7d5d6"/>
<rect x="513.28" y="253.99" width="7.36" height="7.36" fill="#e2defb"/>
<rect x="260.69" y="270.80" width="15.14" height="15.14" fill="#f17e7d"/>
<rect x="279.30" y="268.68" width="19.37" height="19.37" fill="#fa2c26"/>
<rect x="306.48" y="275.14" width="6.46" height="6.46" fill="#fae8e8"/>
<rect x="320.59" y="268.52" width="19.69" height="19.69" fill="#fb241e"/>
<rect x="341.32" y="268.52" width="19.69" height="19.69" fill="#fb241e"/>
<rect x="369.00" y="275.48" width="5.77" height="5.77" fill="#edebfd"/>
<rect x="384.38" y="270.14" width="16.46" height="16.46" fill="#6c5cf8"/>
<rect x="404.21" y="269.24" width="18.26" height="18.26" fill="#4a37fa"/>
<rect x="429.85" y="274.16" width="8.42" height="8.42" fill="#d9d4fa"/>
<rect x="453.54" y="277.11" width="2.50" height="2.50" fill="#fefbfc"/>
<rect x="465.94" y="268.79" width="19.15" height="19.15" fill="#f9302b"/>
<rect x="490.65" y="272.77" width="11.18" height="11.18" fill="#bbb4f8"/>
<rect x="513.01" y="274.41" width="7.91" height="7.91" fill="#f8dcdd"/>
<rect x="280.45" y="290.52" width="17.08" height="17.08" fill="#f35a58"/>
<rect x="304.12" y="293.46" width="11.18" height="11.18" fill="#f3b8b9"/>
<rect x="322.87" y="291.49" width="15.14" height="15.14" fill="#f17e7d"/>
<rect x="343.59" y="291.49" width="15.14" height="15.14" fill="#f17e7d"/>
<rect x="366.78" y="293.95" width="10.21" height="10.21" fill="#c6c0f9"/>
<rect x="382.66" y="289.11" width="19.90" height="19.90" fill="#2812fd"/>
<rect x="406.12" y="291.84" width="14.43" height="14.43" fill="#8e82f7"/>
<rect x="428.02" y="293.02" width="12.08" height="12.08" fill="#b0a8f8"/>
<rect x="452.29" y="296.55" width="5.00" height="5.00" fill="#f1f0fd"/>
<rect x="467.94" y="291.49" width="15.14" height="15.14" fill="#f17e7d"/>
<rect x="486.83" y="289.64" width="18.82" height="18.82" fill="#3f2afb"/>
<rect x="509.75" y="291.84" width="14.43" height="14.43" fill="#f18a8a"/>
<rect x="305.50" y="315.54" width="8.42" height="8.42" fill="#f7d7d8"/>
<rect x="320.49" y="309.80" width="19.90" height="19.90" fill="#fc2019"/>
<rect x="341.21" y="309.80" width="19.90" height="19.90" fill="#fc2019"/>
<rect x="368.35" y="316.21" width="7.07" height="7.07" fill="#f9e3e4"/>
<rect x="384.07" y="311.21" width="17.08" height="17.08" fill="#6150f8"/>
<rect x="404.50" y="310.91" width="17.68" height="17.68" fill="#5644f9"/>
<rect x="429.85" y="315.54" width="8.42" height="8.42" fill="#d9d4fa"/>
<rect x="451.90" y="316.86" width="5.77" height="5.77" fill="#fbeced"/>
<rect x="465.83" y="310.06" width="19.37" height="19.37" fill="#fa2c26"/>
<rect x="489.62" y="313.13" width="13.23" height="13.23" fill="#a096f7"/>
<rect x="513.01" y="315.79" width="7.91" height="7.91" fill="#f8dcdd"/>
<rect x="325.87" y="335.87" width="9.13" height="9.13" fill="#f6d0d1"/>
<rect x="345.76" y="335.03" width="10.80" height="10.80" fill="#f4bdbe"/>
<rect x="366.30" y="334.84" width="11.18" height="11.18" fill="#f3b8b9"/>
<rect x="386.32" y="334.14" width="12.58" height="12.58" fill="#a9a0f7"/>
<rect x="406.12" y="333.22" width="14.43" height="14.43" fill="#8e82f7"/>
<rect x="429.50" y="335.87" width="9.13" height="9.13" fill="#f6d0d1"/>
<rect x="448.50" y="334.14" width="12.58" height="12.58" fill="#a9a0f7"/>
<rect x="474.26" y="339.18" width="2.50" height="2.50" fill="#fefbfc"/>
<rect x="490.65" y="334.84" width="11.18" height="11.18" fill="#bbb4f8"/>
<rect x="511.37" y="334.84" width="11.18" height="11.18" fill="#bbb4f8"/>
<rect x="341.11" y="351.07" width="20.11" height="20.11" fill="#fd1b14"/>
<rect x="368.35" y="357.59" width="7.07" height="7.07" fill="#f9e3e4"/>
<rect x="383.60" y="352.11" width="18.03" height="18.03" fill="#4f3cfa"/>
<rect x="403.55" y="351.33" width="19.58" height="19.58" fill="#2f19fd"/>
<rect x="451.90" y="358.24" width="5.77" height="5.77" fill="#fbeced"/>
<rect x="465.72" y="351.33" width="19.58" height="19.58" fill="#fb2721"/>
<rect x="489.39" y="354.28" width="13.69" height="13.69" fill="#998ef7"/>
<rect x="513.01" y="357.17" width="7.91" height="7.91" fill="#f8dcdd"/>
<rect x="368.66" y="378.59" width="6.46" height="6.46" fill="#fae8e8"/>
<rect x="383.60" y="372.80" width="18.03" height="18.03" fill="#4f3cfa"/>
<rect x="403.49" y="371.97" width="19.69" height="19.69" fill="#2d16fd"/>
<rect x="432.45" y="380.20" width="3.23" height="3.23" fill="#fef9f9"/>
<rect x="454.07" y="381.09" width="1.44" height="1.44" fill="#fffefe"/>
<rect x="465.83" y="372.13" width="19.37" height="19.37" fill="#fa2c26"/>
<rect x="489.78" y="375.36" width="12.91" height="12.91" fill="#a59bf7"/>
<rect x="513.01" y="377.86" width="7.91" height="7.91" fill="#f8dcdd"/>
<rect x="388.66" y="398.55" width="7.91" height="7.91" fill="#f8dcdd"/>
<rect x="408.55" y="397.72" width="9.58" height="9.58" fill="#cdc8fa"/>
<rect x="426.85" y="395.29" width="14.43" height="14.43" fill="#f18a8a"/>
<rect x="451.56" y="399.28" width="6.46" height="6.46" fill="#fae8e8"/>
<rect x="473.74" y="400.74" width="3.54" height="3.54" fill="#fdf8f8"/>
<rect x="491.45" y="397.72" width="9.58" height="9.58" fill="#f5cbcc"/>
<rect x="507.83" y="393.38" width="18.26" height="18.26" fill="#4a37fa"/>
<rect x="404.80" y="414.66" width="17.08" height="17.08" fill="#f35a58"/>
<rect x="430.83" y="419.97" width="6.46" height="6.46" fill="#fae8e8"/>
<rect x="449.48" y="417.89" width="10.61" height="10.61" fill="#f4c0c1"/>
<rect x="467.28" y="414.97" width="16.46" height="16.46" fill="#6c5cf8"/>
<rect x="487.70" y="414.66" width="17.08" height="17.08" fill="#f35a58"/>
<rect x="511.37" y="417.60" width="11.18" height="11.18" fill="#bbb4f8"/>
<rect x="429.85" y="439.68" width="8.42" height="8.42" fill="#d9d4fa"/>
<rect x="451.25" y="440.35" width="7.07" height="7.07" fill="#f9e3e4"/>
<rect x="466.38" y="434.76" width="18.26" height="18.26" fill="#4a37fa"/>
<rect x="489.39" y="437.04" width="13.69" height="13.69" fill="#f19596"/>
<rect x="514.08" y="441.00" width="5.77" height="5.77" fill="#fbeced"/>
<rect x="447.57" y="457.36" width="14.43" height="14.43" fill="#8e82f7"/>
<rect x="473.74" y="462.81" width="3.54" height="3.54" fill="#fdf8f8"/>
<rect x="492.56" y="460.89" width="7.36" height="7.36" fill="#f9e0e1"/>
<rect x="510.12" y="457.73" width="13.69" height="13.69" fill="#998ef7"/>
<rect x="473.23" y="482.98" width="4.56" height="4.56" fill="#fcf3f4"/>
<rect x="494.99" y="484.01" width="2.50" height="2.50" fill="#fefbfc"/>
<rect x="512.40" y="480.70" width="9.13" height="9.13" fill="#f6d0d1"/>
<rect x="490.65" y="500.36" width="11.18" height="11.18" fill="#bbb4f8"/>
<rect x="511.10" y="500.09" width="11.73" height="11.73" fill="#f3b1b2"/>
<rect x="510.12" y="519.80" width="13.69" height="13.69" fill="#998ef7"/>
</g>
<g stroke="#000" stroke-width="1.6" stroke-linecap="butt">
<path d="M98.46 113.19L106.46 113.19M100.46 109.56L104.46 116.83M104.46 109.56L100.46 116.83"/>
<path d="M119.19 113.19L127.19 113.19M121.19 109.56L125.19 116.83M125.19 109.56L121.19 116.83"/>
<path d="M139.91 113.19L147.91 113.19M141.91 109.56L145.91 116.83M145.91 109.56L141.91 116.83"/>
<path d="M160.64 113.19L168.64 113.19M162.64 109.56L166.64 116.83M166.64 109.56L162.64 116.83"/>
<path d="M181.36 113.19L189.36 113.19M183.36 109.56L187.36 116.83M187.36 109.56L183.36 116.83"/>
<path d="M243.54 113.19L251.54 113.19M245.54 109.56L249.54 116.83M249.54 109.56L245.54 116.83"/>
<path d="M264.26 113.19L272.26 113.19M266.26 109.56L270.26 116.83M270.26 109.56L266.26 116.83"/>
<path d="M284.99 113.19L292.99 113.19M286.99 109.56L290.99 116.83M290.99 109.56L286.99 116.83"/>
<path d="M326.44 113.19L334.44 113.19M328.44 109.56L332.44 116.83M332.44 109.56L328.44 116.83"/>
<path d="M347.16 113.19L355.16 113.19M349.16 109.56L353.16 116.83M353.16 109.56L349.16 116.83"/>
<path d="M388.61 113.19L396.61 113.19M390.61 109.56L394.61 116.83M394.61 109.56L390.61 116.83"/>
<path d="M409.34 113.19L417.34 113.19M411.34 109.56L415.34 116.83M415.34 109.56L411.34 116.83"/>
<path d="M471.51 113.19L479.51 113.19M473.51 109.56L477.51 116.83M477.51 109.56L473.51 116.83"/>
<path d="M119.19 133.88L127.19 133.88M121.19 130.25L125.19 137.52M125.19 130.25L121.19 137.52"/>
<path d="M139.91 133.88L147.91 133.88M141.91 130.25L145.91 137.52M145.91 130.25L141.91 137.52"/>
<path d="M160.64 133.88L168.64 133.88M162.64 130.25L166.64 137.52M166.64 130.25L162.64 137.52"/>
<path d="M181.36 133.88L189.36 133.88M183.36 130.25L187.36 137.52M187.36 130.25L183.36 137.52"/>
<path d="M243.54 133.88L251.54 133.88M245.54 130.25L249.54 137.52M249.54 130.25L245.54 137.52"/>
<path d="M284.99 133.88L292.99 133.88M286.99 130.25L290.99 137.52M290.99 130.25L286.99 137.52"/>
<path d="M305.71 133.88L313.71 133.88M307.71 130.25L311.71 137.52M311.71 130.25L307.71 137.52"/>
<path d="M326.44 133.88L334.44 133.88M328.44 130.25L332.44 137.52M332.44 130.25L328.44 137.52"/>
<path d="M347.16 133.88L355.16 133.88M349.16 130.25L353.16 137.52M353.16 130.25L349.16 137.52"/>
<path d="M388.61 133.88L396.61 133.88M390.61 130.25L394.61 137.52M394.61 130.25L390.61 137.52"/>
<path d="M409.34 133.88L417.34 133.88M411.34 130.25L415.34 137.52M415.34 130.25L411.34 137.52"/>
<path d="M471.51 133.88L479.51 133.88M473.51 130.25L477.51 137.52M477.51 130.25L473.51 137.52"/>
<path d="M139.91 154.57L147.91 154.57M141.91 150.94L145.91 158.21M145.91 150.94L141.91 158.21"/>
<path d="M160.64 154.57L168.64 154.57M162.64 150.94L166.64 158.21M166.64 150.94L162.64 158.21"/>
<path d="M181.36 154.57L189.36 154.57M183.36 150.94L187.36 158.21M187.36 150.94L183.36 158.21"/>
<path d="M243.54 154.57L251.54 154.57M245.54 150.94L249.54 158.21M249.54 150.94L245.54 158.21"/>
<path d="M264.26 154.57L272.26 154.57M266.26 150.94L270.26 158.21M270.26 150.94L266.26 158.21"/>
<path d="M284.99 154.57L292.99 154.57M286.99 150.94L290.99 158.21M290.99 150.94L286.99 158.21"/>
<path d="M326.44 154.57L334.44 154.57M328.44 150.94L332.44 158.21M332.44 150.94L328.44 158.21"/>
<path d="M347.16 154.57L355.16 154.57M349.16 150.94L353.16 158.21M353.16 150.94L349.16 158.21"/>
<path d="M388.61 154.57L396.61 154.57M390.61 150.94L394.61 158.21M394.61 150.94L390.61 158.21"/>
<path d="M409.34 154.57L417.34 154.57M411.34 150.94L415.34 158.21M415.34 150.94L411.34 158.21"/>
<path d="M471.51 154.57L479.51 154.57M473.51 150.94L477.51 158.21M477.51 150.94L473.51 158.21"/>
<path d="M160.64 175.26L168.64 175.26M162.64 171.63L166.64 178.90M166.64 171.63L162.64 178.90"/>
<path d="M181.36 175.26L189.36 175.26M183.36 171.63L187.36 178.90M187.36 171.63L183.36 178.90"/>
<path d="M243.54 175.26L251.54 175.26M245.54 171.63L249.54 178.90M249.54 171.63L245.54 178.90"/>
<path d="M284.99 175.26L292.99 175.26M286.99 171.63L290.99 178.90M290.99 171.63L286.99 178.90"/>
<path d="M326.44 175.26L334.44 175.26M328.44 171.63L332.44 178.90M332.44 171.63L328.44 178.90"/>
<path d="M347.16 175.26L355.16 175.26M349.16 171.63L353.16 178.90M353.16 171.63L349.16 178.90"/>
<path d="M409.34 175.26L417.34 175.26M411.34 171.63L415.34 178.90M415.34 171.63L411.34 178.90"/>
<path d="M471.51 175.26L479.51 175.26M473.51 171.63L477.51 178.90M477.51 171.63L473.51 178.90"/>
<path d="M181.36 195.95L189.36 195.95M183.36 192.32L187.36 199.59M187.36 192.32L183.36 199.59"/>
<path d="M243.54 195.95L251.54 195.95M245.54 192.32L249.54 199.59M249.54 192.32L245.54 199.59"/>
<path d="M264.26 195.95L272.26 195.95M266.26 192.32L270.26 199.59M270.26 192.32L266.26 199.59"/>
<path d="M284.99 195.95L292.99 195.95M286.99 192.32L290.99 199.59M290.99 192.32L286.99 199.59"/>
<path d="M326.44 195.95L334.44 195.95M328.44 192.32L332.44 199.59M332.44 192.32L328.44 199.59"/>
<path d="M347.16 195.95L355.16 195.95M349.16 192.32L353.16 199.59M353.16 192.32L349.16 199.59"/>
<path d="M388.61 195.95L396.61 195.95M390.61 192.32L394.61 199.59M394.61 192.32L390.61 199.59"/>
<path d="M409.34 195.95L417.34 195.95M411.34 192.32L415.34 199.59M415.34 192.32L411.34 199.59"/>
<path d="M471.51 195.95L479.51 195.95M473.51 192.32L477.51 199.59M477.51 192.32L473.51 199.59"/>
<path d="M243.54 216.64L251.54 216.64M245.54 213.01L249.54 220.28M249.54 213.01L245.54 220.28"/>
<path d="M264.26 216.64L272.26 216.64M266.26 213.01L270.26 220.28M270.26 213.01L266.26 220.28"/>
<path d="M284.99 216.64L292.99 216.64M286.99 213.01L290.99 220.28M290.99 213.01L286.99 220.28"/>
<path d="M326.44 216.64L334.44 216.64M328.44 213.01L332.44 220.28M332.44 213.01L328.44 220.28"/>
<path d="M347.16 216.64L355.16 216.64M349.16 213.01L353.16 220.28M353.16 213.01L349.16 220.28"/>
<path d="M388.61 216.64L396.61 216.64M390.61 213.01L394.61 220.28M394.61 213.01L390.61 220.28"/>
<path d="M409.34 216.64L417.34 216.64M411.34 213.01L415.34 220.28M415.34 213.01L411.34 220.28"/>
<path d="M471.51 216.64L479.51 216.64M473.51 213.01L477.51 220.28M477.51 213.01L473.51 220.28"/>
<path d="M243.54 258.03L251.54 258.03M245.54 254.39L249.54 261.66M249.54 254.39L245.54 261.66"/>
<path d="M284.99 278.72L292.99 278.72M286.99 275.08L290.99 282.35M290.99 275.08L286.99 282.35"/>
<path d="M326.44 278.72L334.44 278.72M328.44 275.08L332.44 282.35M332.44 275.08L328.44 282.35"/>
<path d="M347.16 278.72L355.16 278.72M349.16 275.08L353.16 282.35M353.16 275.08L349.16 282.35"/>
<path d="M388.61 278.72L396.61 278.72M390.61 275.08L394.61 282.35M394.61 275.08L390.61 282.35"/>
<path d="M409.34 278.72L417.34 278.72M411.34 275.08L415.34 282.35M415.34 275.08L411.34 282.35"/>
<path d="M471.51 278.72L479.51 278.72M473.51 275.08L477.51 282.35M477.51 275.08L473.51 282.35"/>
<path d="M284.99 299.41L292.99 299.41M286.99 295.77L290.99 303.04M290.99 295.77L286.99 303.04"/>
<path d="M388.61 299.41L396.61 299.41M390.61 295.77L394.61 303.04M394.61 295.77L390.61 303.04"/>
<path d="M492.24 299.41L500.24 299.41M494.24 295.77L498.24 303.04M498.24 295.77L494.24 303.04"/>
<path d="M326.44 320.10L334.44 320.10M328.44 316.46L332.44 323.73M332.44 316.46L328.44 323.73"/>
<path d="M347.16 320.10L355.16 320.10M349.16 316.46L353.16 323.73M353.16 316.46L349.16 323.73"/>
<path d="M388.61 320.10L396.61 320.10M390.61 316.46L394.61 323.73M394.61 316.46L390.61 323.73"/>
<path d="M409.34 320.10L417.34 320.10M411.34 316.46L415.34 323.73M415.34 316.46L411.34 323.73"/>
<path d="M471.51 320.10L479.51 320.10M473.51 316.46L477.51 323.73M477.51 316.46L473.51 323.73"/>
<path d="M347.16 361.48L355.16 361.48M349.16 357.84L353.16 365.11M353.16 357.84L349.16 365.11"/>
<path d="M388.61 361.48L396.61 361.48M390.61 357.84L394.61 365.11M394.61 357.84L390.61 365.11"/>
<path d="M409.34 361.48L417.34 361.48M411.34 357.84L415.34 365.11M415.34 357.84L411.34 365.11"/>
<path d="M471.51 361.48L479.51 361.48M473.51 357.84L477.51 365.11M477.51 357.84L473.51 365.11"/>
<path d="M388.61 382.17L396.61 382.17M390.61 378.53L394.61 385.80M394.61 378.53L390.61 385.80"/>
<path d="M409.34 382.17L417.34 382.17M411.34 378.53L415.34 385.80M415.34 378.53L411.34 385.80"/>
<path d="M471.51 382.17L479.51 382.17M473.51 378.53L477.51 385.80M477.51 378.53L473.51 385.80"/>
<path d="M512.96 402.86L520.96 402.86M514.96 399.22L518.96 406.49M518.96 399.22L514.96 406.49"/>
<path d="M409.34 423.55L417.34 423.55M411.34 419.91L415.34 427.18M415.34 419.91L411.34 427.18"/>
<path d="M471.51 423.55L479.51 423.55M473.51 419.91L477.51 427.18M477.51 419.91L473.51 427.18"/>
<path d="M492.24 423.55L500.24 423.55M494.24 419.91L498.24 427.18M498.24 419.91L494.24 427.18"/>
<path d="M471.51 444.24L479.51 444.24M473.51 440.60L477.51 447.87M477.51 440.60L473.51 447.87"/>
</g>
<g fill="#f1f834">
<circle cx="81.7" cy="112.8" r="3.8"/>
<circle cx="102.5" cy="133.5" r="3.8"/>
<circle cx="123.2" cy="154.2" r="3.8"/>
<circle cx="143.9" cy="174.9" r="3.8"/>
<circle cx="164.6" cy="195.6" r="3.8"/>
<circle cx="185.4" cy="216.3" r="3.8"/>
<circle cx="206.1" cy="237.0" r="3.8"/>
<circle cx="226.8" cy="257.7" r="3.8"/>
<circle cx="247.5" cy="278.4" r="3.8"/>
<circle cx="268.3" cy="299.1" r="3.8"/>
<circle cx="289.0" cy="319.7" r="3.8"/>
<circle cx="309.7" cy="340.4" r="3.8"/>
<circle cx="330.4" cy="361.1" r="3.8"/>
<circle cx="351.2" cy="381.8" r="3.8"/>
<circle cx="371.9" cy="402.5" r="3.8"/>
<circle cx="392.6" cy="423.2" r="3.8"/>
<circle cx="413.3" cy="443.9" r="3.8"/>
<circle cx="434.1" cy="464.6" r="3.8"/>
<circle cx="454.8" cy="485.3" r="3.8"/>
<circle cx="475.5" cy="506.0" r="3.8"/>
<circle cx="496.2" cy="526.6" r="3.8"/>
<circle cx="517.0" cy="547.3" r="3.8"/>
<circle cx="62.4" cy="348.2" r="3.8"/><circle cx="162.8" cy="466.0" r="3.8"/>
</g>
<g font-family="Liberation Sans, sans-serif" font-size="11.4" fill="#222">
<text x="533.9" y="118.0">SWC</text>
<text x="533.9" y="138.7">pH</text>
<text x="533.9" y="159.4">TOC</text>
<text x="533.9" y="180.1">DOC</text>
<text x="533.9" y="200.8">MBC</text>
<text x="533.9" y="221.5">TN</text>
<text x="533.9" y="242.2">NH4</text>
<text x="533.9" y="262.9">NO3</text>
<text x="533.9" y="283.6">MBN</text>
<text x="533.9" y="304.3">TP</text>
<text x="533.9" y="324.9">AP</text>
<text x="533.9" y="345.6">C/N</text>
<text x="533.9" y="366.3">N/P</text>
<text x="533.9" y="387.0">C/P</text>
<text x="533.9" y="407.7">O/C</text>
<text x="533.9" y="428.4">chao1_F</text>
<text x="533.9" y="449.1">chao1_B</text>
<text x="533.9" y="469.8">Simpson_F</text>
<text x="533.9" y="490.5">Simpson_B</text>
<text x="533.9" y="511.2">AB</text>
<text x="533.9" y="531.8">Margalef</text>
<text x="533.9" y="552.5">Compositae</text>
<text transform="translate(86.7 94.3) rotate(-90)">SWC</text>
<text transform="translate(107.5 94.3) rotate(-90)">pH</text>
<text transform="translate(128.2 94.3) rotate(-90)">TOC</text>
<text transform="translate(148.9 94.3) rotate(-90)">DOC</text>
<text transform="translate(169.6 94.3) rotate(-90)">MBC</text>
<text transform="translate(190.4 94.3) rotate(-90)">TN</text>
<text transform="translate(211.1 94.3) rotate(-90)">NH4</text>
<text transform="translate(231.8 94.3) rotate(-90)">NO3</text>
<text transform="translate(252.5 94.3) rotate(-90)">MBN</text>
<text transform="translate(273.3 94.3) rotate(-90)">TP</text>
<text transform="translate(294.0 94.3) rotate(-90)">AP</text>
<text transform="translate(314.7 94.3) rotate(-90)">C/N</text>
<text transform="translate(335.4 94.3) rotate(-90)">N/P</text>
<text transform="translate(356.2 94.3) rotate(-90)">C/P</text>
<text transform="translate(376.9 94.3) rotate(-90)">O/C</text>
<text transform="translate(397.6 94.3) rotate(-90)">chao1_F</text>
<text transform="translate(418.3 94.3) rotate(-90)">chao1_B</text>
<text transform="translate(439.1 94.3) rotate(-90)">Simpson_F</text>
<text transform="translate(459.8 94.3) rotate(-90)">Simpson_B</text>
<text transform="translate(480.5 94.3) rotate(-90)">AB</text>
<text transform="translate(501.2 94.3) rotate(-90)">Margalef</text>
<text transform="translate(522.0 94.3) rotate(-90)">Compositae</text>
</g>
<g font-family="Liberation Sans, sans-serif" font-size="17.5" font-weight="bold" fill="#111" text-anchor="middle">
<text x="235.2" y="15.3">Soil</text><text x="417.8" y="15.2">Microbe</text><text x="497.7" y="15.2">Plant</text>
</g>
<line x1="78.6" y1="22.8" x2="357.5" y2="22.8" stroke="#eba23a" stroke-width="1.9"/>
<line x1="368" y1="23.4" x2="461.6" y2="23.4" stroke="#4fa8ea" stroke-width="1.9"/>
<line x1="469.6" y1="22.2" x2="526.8" y2="22.2" stroke="#3bb04a" stroke-width="1.9"/>
<g font-family="Liberation Sans, sans-serif" font-size="17" font-weight="bold" fill="#111">
<text x="1.6" y="375.2" textLength="100.2" lengthAdjust="spacingAndGlyphs">Copiotrophs</text>
<text x="108.2" y="490.9" textLength="96.3" lengthAdjust="spacingAndGlyphs">Oligotrophs</text>
</g>
<g font-family="Liberation Sans, sans-serif" fill="#222">
<text x="611.7" y="180.8" font-size="11.6">Mantel's P</text>
<rect x="611.2" y="187.5" width="19.2" height="54.7" fill="#f0f0f0"/>
<line x1="613.2" y1="196.3" x2="628.5" y2="196.3" stroke="#ff1e12" stroke-width="2.8"/>
<line x1="613.2" y1="214.9" x2="628.5" y2="214.9" stroke="#bdf3fa" stroke-width="2.8"/>
<g font-size="9.8"><text x="636" y="200.9">&lt;0.01</text><text x="636" y="219.5">0.01-0.05</text><text x="636" y="238">&gt;=0.05</text></g>
<text x="611.7" y="277.4" font-size="11.6">Mantel's r</text>
<rect x="611.2" y="283.2" width="19.2" height="73.5" fill="#f0f0f0"/>
<line x1="613.3" y1="293.1" x2="628.2" y2="293.1" stroke="#555" stroke-width="0.9"/>
<line x1="613.3" y1="311.3" x2="628.2" y2="311.3" stroke="#555" stroke-width="2.4"/>
<line x1="613.3" y1="330" x2="628.2" y2="330" stroke="#555" stroke-width="4.6"/>
<line x1="613.3" y1="348.2" x2="628.2" y2="348.2" stroke="#555" stroke-width="7.6"/>
<g font-size="9.8"><text x="636" y="297.7">&lt;0.2</text><text x="636" y="316">0.2-0.4</text><text x="636" y="334.5">0.4-0.6</text><text x="636" y="352.8">0.6-0.8</text></g>
<text x="611.3" y="391.5" font-size="11.9">Spearman's r</text>
<defs><linearGradient id="g" x1="0" y1="0" x2="0" y2="1"><stop offset="0" stop-color="#ff2016"/><stop offset="0.5" stop-color="#fff"/><stop offset="1" stop-color="#2a10ff"/></linearGradient></defs>
<rect x="611.3" y="399" width="19" height="91.5" fill="url(#g)"/>
<line x1="611.3" y1="422.3" x2="615" y2="422.3" stroke="#fff" stroke-width="0.8"/><line x1="626.6" y1="422.3" x2="630.3" y2="422.3" stroke="#fff" stroke-width="0.8"/>
<line x1="611.3" y1="467.7" x2="615" y2="467.7" stroke="#fff" stroke-width="0.8"/><line x1="626.6" y1="467.7" x2="630.3" y2="467.7" stroke="#fff" stroke-width="0.8"/>
<g font-size="10"><text x="636" y="403.2">1.0</text><text x="636" y="426">0.5</text><text x="636" y="449.2">0.0</text><text x="636" y="472.1">-0.5</text><text x="636" y="495.3">-1.0</text></g>
</g>
</svg>
</body></html>
